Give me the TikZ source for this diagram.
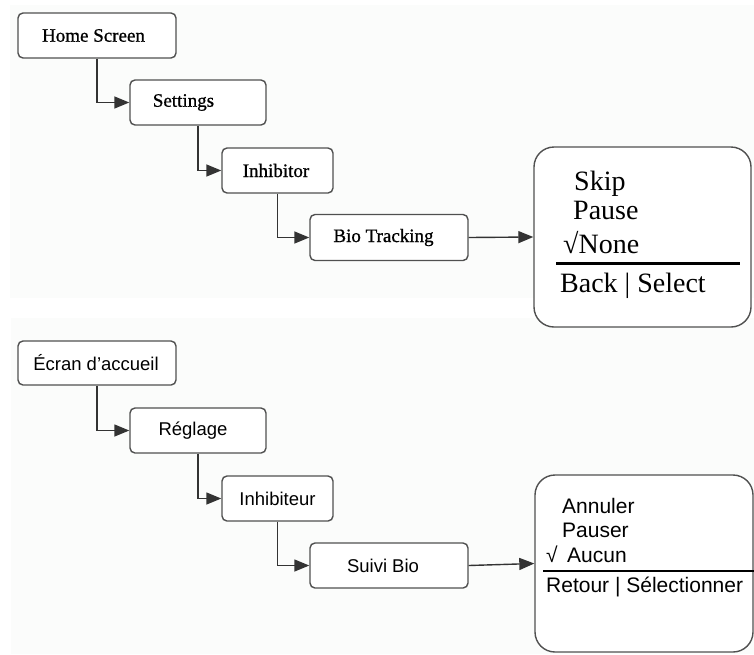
\documentclass[tikz,border=0pt]{standalone}
\usepackage{fontspec}
\setmainfont{Liberation Serif}
\newfontfamily\arialf{Liberation Sans}
\newfontfamily\serifbold[FakeBold=0.9]{Liberation Serif}
\usetikzlibrary{arrows.meta}
\definecolor{panel}{HTML}{FBFCFB}
\definecolor{boxline}{HTML}{505050}
\definecolor{conn}{HTML}{333333}
\tikzset{
  menubox/.style={draw=boxline, line width=1.4pt, fill=white, rounded corners=5pt,
    inner sep=0pt, minimum height=45pt},
  serifl/.style={font=\serifbold\fontsize{19}{22}\selectfont},
  sansl/.style={font=\arialf\fontsize{18.5}{21}\selectfont},
  screenbox/.style={draw=boxline, line width=1.4pt, fill=white, rounded corners=20pt, inner sep=0pt},
  conn/.style={draw=conn, line width=1.4pt, -{Triangle[length=15pt,width=12pt]}},
  bigserif/.style={font=\fontsize{28}{30}\selectfont, inner sep=0pt, anchor=base west},
  bigsans/.style={font=\arialf\fontsize{21}{24}\selectfont, inner sep=0pt, anchor=base west}
}
\begin{document}
\begin{tikzpicture}[x=1pt,y=-1pt]
\useasboundingbox (0,0) rectangle (754,654);
\fill[panel] (10,5) rectangle (754,298);
\fill[panel] (11,318) rectangle (754,654);

% ---- top (English) ----
\node[menubox, serifl, minimum width=158pt] (hs) at (97,35.5) {Home Screen\hspace*{7pt}};
\node[menubox, serifl, minimum width=136pt] (set) at (198,102.5) {Settings\hspace*{29pt}};
\node[menubox, serifl, minimum width=111pt] (inh) at (277.5,170.5) {Inhibitor\hspace*{3pt}};
\node[menubox, serifl, minimum width=158pt, minimum height=46pt] (bio) at (389,237.5) {Bio Tracking\hspace*{11pt}};
\node[screenbox, minimum width=217pt, minimum height=180pt] (scr) at (642.5,237) {};

\draw[conn] (hs.south) |- (set.west);
\draw[conn] (set.south) |- (inh.west);
\draw[conn] (inh.south) |- (bio.west);
\draw[conn] (bio.east) -- (scr.west);

\node[bigserif] (skip) at (574,190) {Skip};
\node[bigserif] (pause) at (573,219) {Pause};
\node[bigserif] (none) at (563,253) {√None};
\coordinate (l1a) at (556,263);
\coordinate (l1b) at (740,263);
\draw[line width=3pt] (l1a) -- (l1b);
\node[bigserif] (backsel) at (560,292) {Back | Select};

% ---- bottom (French) ----
\node[menubox, sansl, minimum width=158pt, minimum height=44pt] (ecr) at (97,363) {Écran d’accueil\hspace*{2pt}};
\node[menubox, sansl, minimum width=136pt] (reg) at (198,430.5) {Réglage\hspace*{10pt}};
\node[menubox, sansl, minimum width=111pt] (inhf) at (277.5,498.5) {Inhibiteur};
\node[menubox, sansl, minimum width=158pt] (suivi) at (389,565.5) {Suivi Bio\hspace*{12pt}};
\node[screenbox, minimum width=218pt, minimum height=177pt] (scrf) at (644,563.5) {};

\draw[conn] (ecr.south) |- (reg.west);
\draw[conn] (reg.south) |- (inhf.west);
\draw[conn] (inhf.south) |- (suivi.west);
\draw[conn] (suivi.east) -- (scrf.west);

\node[bigsans] (annul) at (562,513) {Annuler};
\node[bigsans] (pauser) at (562,537) {Pauser};
\node[bigsans] (chk) at (546,562) {√};
\node[bigsans] (aucun) at (567,562) {Aucun};
\coordinate (l2a) at (543,571);
\coordinate (l2b) at (754,571);
\draw[line width=2pt] (l2a) -- (l2b);
\node[bigsans] (retsel) at (546,592) {Retour | Sélectionner};
\end{tikzpicture}
\end{document}
